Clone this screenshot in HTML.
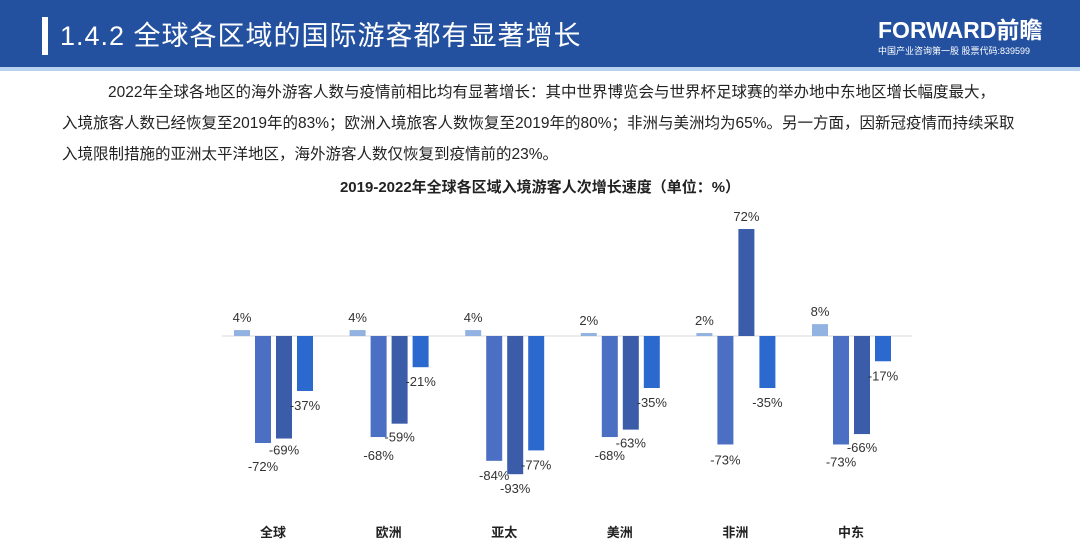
<!DOCTYPE html>
<html><head><meta charset="utf-8"><style>
body{margin:0;width:1080px;height:543px;overflow:hidden;background:#fff;font-family:"Liberation Sans","Noto Sans CJK SC",sans-serif;position:relative}
.hd{position:absolute;left:0;top:0;width:1080px;height:67px;background:#2351a0}
.st{position:absolute;left:0;top:67px;width:1080px;height:4px;background:#b7d3f0}
.bar{position:absolute;left:42px;top:17px;width:6px;height:38px;background:#fff}
.tt{position:absolute;left:60px;top:17px;color:#fff;font-size:27px;letter-spacing:1px;white-space:nowrap;line-height:38px}
.lg{position:absolute;left:878px;top:18px;color:#fff;font-size:23px;font-weight:bold;letter-spacing:0px;white-space:nowrap;line-height:24px}
.lg2{position:absolute;left:878px;top:44px;color:#fff;font-size:9px;white-space:nowrap}
.p{position:absolute;font-size:15.5px;color:#222;white-space:nowrap;line-height:20px}
</style></head><body>
<div class="hd"></div><div class="st"></div><div class="bar"></div>
<div class="tt">1.4.2 全球各区域的国际游客都有显著增长</div>
<div class="lg">FORWARD前瞻</div>
<div class="lg2">中国产业咨询第一股 股票代码:839599</div>
<div class="p" style="left:108px;top:83px">2022年全球各地区的海外游客人数与疫情前相比均有显著增长：其中世界博览会与世界杯足球赛的举办地中东地区增长幅度最大，</div>
<div class="p" style="left:62px;top:114px">入境旅客人数已经恢复至2019年的83%；欧洲入境旅客人数恢复至2019年的80%；非洲与美洲均为65%。另一方面，因新冠疫情而持续采取</div>
<div class="p" style="left:62px;top:145px">入境限制措施的亚洲太平洋地区，海外游客人数仅恢复到疫情前的23%。</div>
<svg style="position:absolute;left:0;top:0" width="1080" height="543" font-family="Liberation Sans, Noto Sans CJK SC, sans-serif">
<text x="540" y="192" text-anchor="middle" font-size="15" font-weight="bold" fill="#222">2019-2022年全球各区域入境游客人次增长速度（单位：%）</text>
<line x1="222" y1="336" x2="912" y2="336" stroke="#d8d8d8" stroke-width="1"/>
<g id="g"></g>
</svg>
<script>
var d=[["全球",[4,-72,-69,-37],[0,28,16,19]],["欧洲",[4,-68,-59,-21],[0,23,18,19]],["亚太",[4,-84,-93,-77],[0,19,19,19]],["美洲",[2,-68,-63,-35],[0,23,18,19]],["非洲",[2,-73,72,-35],[0,20,0,19]],["中东",[8,-73,-66,-17],[0,22,18,19]]];
var c=["#92b3e2","#4a6fc3","#3a5ca9","#2c69cf"],s=1.486,h="";
d.forEach(function(g,i){var x0=234+115.6*i;
g[1].forEach(function(v,j){var x=x0+21*j,hh=Math.abs(v)*s,y=v>0?336-hh:336;
h+='<rect x="'+x+'" y="'+y+'" width="16" height="'+hh+'" fill="'+c[j]+'"/>';
var ty=v>0?336-hh-8:336+hh+g[2][j];
h+='<text x="'+(x+8)+'" y="'+ty+'" text-anchor="middle" font-size="13" fill="#333">'+v+'%</text>';});
h+='<text x="'+(x0+39)+'" y="537" text-anchor="middle" font-size="13" font-weight="bold" fill="#222">'+g[0]+'</text>';});
document.getElementById("g").innerHTML=h;
</script>
</body></html>
